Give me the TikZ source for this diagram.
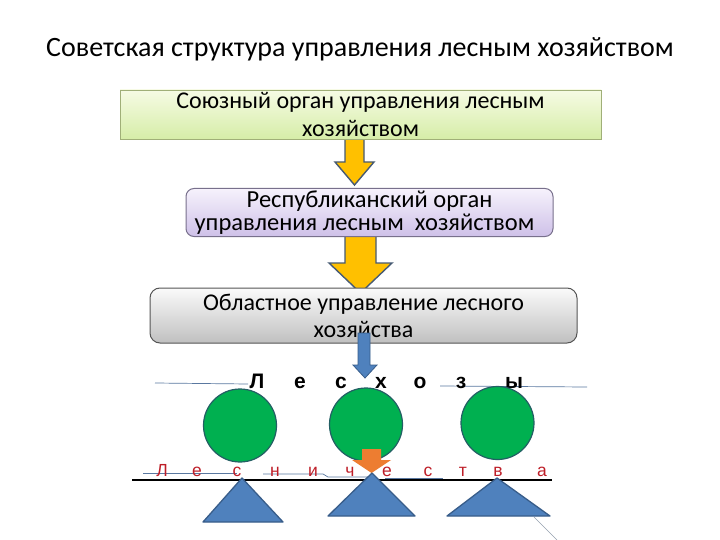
\documentclass[tikz,border=0pt]{standalone}
\usepackage{fontspec}
\setmainfont{Carlito}
\newfontfamily\arialf{Liberation Sans}
\definecolor{yel}{RGB}{255,192,0}
\definecolor{yelbd}{RGB}{70,90,115}
\definecolor{blu}{RGB}{79,129,189}
\definecolor{blubd}{RGB}{56,93,138}
\definecolor{grn}{RGB}{0,176,80}
\definecolor{grnbd}{RGB}{35,95,100}
\definecolor{org}{RGB}{237,125,49}
\definecolor{redl}{RGB}{190,30,40}
\definecolor{thinl}{RGB}{90,120,160}
\tikzset{
  boxtext/.style={align=center,inner sep=0pt},
  lettA/.style={anchor=base,inner sep=0pt,font=\arialf\bfseries\fontsize{21}{22}\selectfont},
  lettB/.style={anchor=base,inner sep=0pt,text=redl,font=\arialf\fontsize{17.5}{19}\selectfont},
  yarrow/.style={fill=yel,draw=yelbd,line width=1.4pt,line join=miter},
  tree/.style={circle,fill=grn,draw=grnbd,line width=1.2pt,minimum size=73pt,inner sep=0pt},
  tri/.style={fill=blu,draw=blubd,line width=1.3pt,line join=round},
  thin/.style={draw=thinl,line width=0.7pt}
}
\begin{document}
\begin{tikzpicture}[x=1pt,y=-1pt]
\useasboundingbox (0,0) rectangle (720,540);
\fill[white] (0,0) rectangle (720,540);
% title
\node[anchor=base,inner sep=0pt,font=\fontsize{28}{32}\selectfont] (title) at (360,57) {Советская структура управления лесным хозяйством};
% arrows behind boxes
\draw[yarrow] (345,134) -- (364,134) -- (364,162) -- (374,162) -- (354.5,185) -- (335,162) -- (345,162) -- cycle;
\draw[yarrow] (345,228) -- (376,228) -- (376,263) -- (392,263) -- (360.5,293) -- (329,263) -- (345,263) -- cycle;
% boxes
\node[boxtext,minimum width=481pt,minimum height=49pt,draw={rgb,255:red,160;green,175;blue,120},line width=0.8pt,top color={rgb,255:red,246;green,251;blue,228},bottom color={rgb,255:red,214;green,237;blue,168},font=\fontsize{24}{28.5}\selectfont] (b1) at (360.5,114.5) {Союзный орган управления лесным\\хозяйством};
\node[boxtext,rounded corners=8pt,minimum width=367pt,minimum height=48pt,draw={rgb,255:red,120;green,112;blue,140},line width=1pt,top color={rgb,255:red,246;green,242;blue,252},bottom color={rgb,255:red,206;green,192;blue,232},font=\fontsize{24.5}{23}\selectfont] (b2) at (369.5,212.5) {Республиканский орган\\управления лесным\ \ хозяйством\hspace*{10pt}};
\node[boxtext,rounded corners=10pt,minimum width=427pt,minimum height=55pt,draw={rgb,255:red,85;green,85;blue,85},line width=1pt,top color={rgb,255:red,250;green,250;blue,250},bottom color={rgb,255:red,192;green,192;blue,192},font=\fontsize{24}{27}\selectfont] (b3) at (363.5,315.5) {Областное управление лесного\\хозяйства};
% blue arrow
\draw[fill=blu,draw=blubd,line width=0.8pt] (358,333) -- (370,333) -- (370,365) -- (377,365) -- (365,378) -- (353,365) -- (358,365) -- cycle;
% thin lines near Лесхозы
\draw[thin] (155,383) -- (248,384);
\draw[thin] (440,386) -- (587,387);
% Лесхозы
\foreach \x/\l [count=\i] in {257/Л,300/е,341/с,381/х,420/о,461/з,514/ы}
  \node[lettA] (lh\i) at (\x,388) {\l};
% trees
\node[tree] (c1) at (240,425.5) {};
\node[tree] (c2) at (366,424.5) {};
\node[tree] (c3) at (497.5,423) {};
% orange arrow
\fill[org] (362,449) -- (381,449) -- (381,460) -- (391,460) -- (371.5,473) -- (352,460) -- (362,460) -- cycle;
% thin lines near Лесничества
\draw[thin] (143,473) -- (237,473);
\draw[thin] (263,474) -- (323,474) -- (328,477) -- (368,477);
\draw[thin] (385,478) -- (443,478);
% Лесничества
\foreach \x/\l [count=\i] in {162/Л,197/е,237/с,275/н,313/и,350/ч,387/е,428/с,463/т,498/в,542/а}
  \node[lettB] (ln\i) at (\x,476) {\l};
% black line
\draw[line width=2.2pt] (132,480) -- (552,480);
% triangles
\draw[tri] (242,478) -- (283,522) -- (203,522) -- cycle;
\draw[tri] (372,473) -- (415,516) -- (328,516) -- cycle;
\draw[tri] (497,478) -- (550,516) -- (447,516) -- cycle;
\draw[draw={rgb,255:red,150;green,160;blue,175},line width=0.6pt] (534,517) -- (557,540);
\end{tikzpicture}
\end{document}
